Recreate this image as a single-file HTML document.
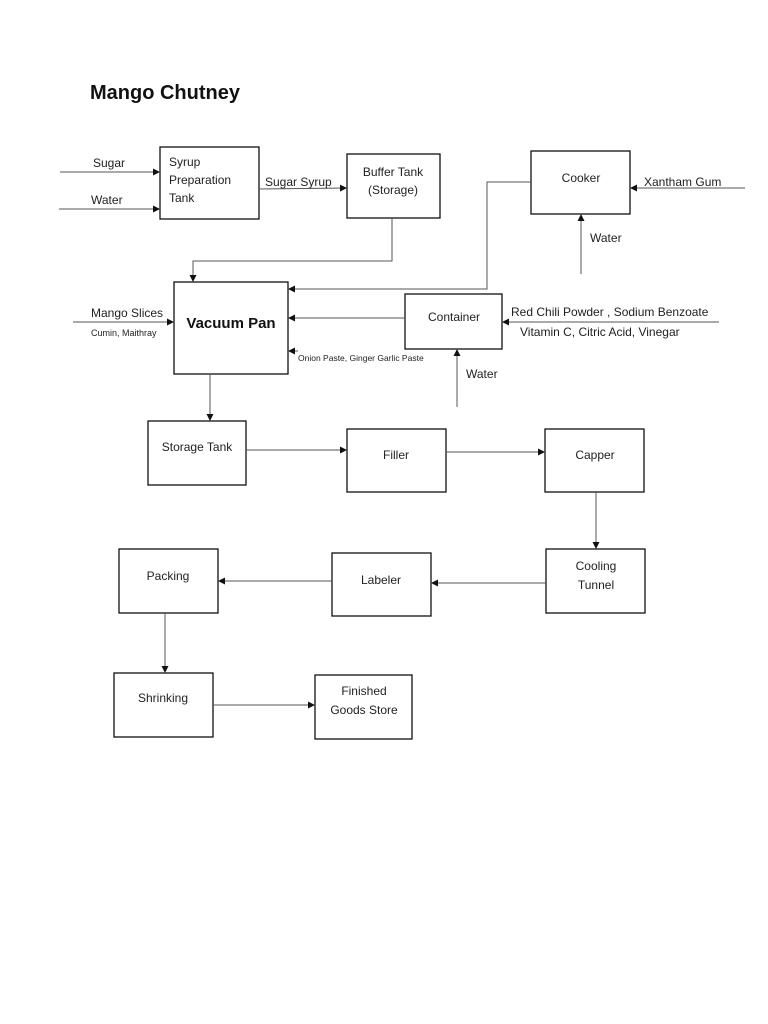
<!DOCTYPE html>
<html><head><meta charset="utf-8"><style>
html,body{margin:0;padding:0;background:#fff;}
svg{display:block;font-family:"Liberation Sans",sans-serif;}
text{fill:#222;font-size:12px;}
.b{fill:#fff;stroke:#111;stroke-width:1.3;}
.l{stroke:#555;stroke-width:1;fill:none;}
</style></head><body>
<svg width="768" height="1024" viewBox="0 0 768 1024" xmlns="http://www.w3.org/2000/svg">
<defs><marker id="a" markerWidth="8" markerHeight="8" refX="7" refY="4" orient="auto" markerUnits="userSpaceOnUse"><path d="M0,0.5 L7,4 L0,7.5 z" fill="#111"/></marker></defs>
<text x="90" y="99" style="font-size:20px;font-weight:bold;fill:#111">Mango Chutney</text>

<rect class="b" x="160" y="147" width="99" height="72"/>
<rect class="b" x="347" y="154" width="93" height="64"/>
<rect class="b" x="531" y="151" width="99" height="63"/>
<rect class="b" x="174" y="282" width="114" height="92"/>
<rect class="b" x="405" y="294" width="97" height="55"/>
<rect class="b" x="148" y="421" width="98" height="64"/>
<rect class="b" x="347" y="429" width="99" height="63"/>
<rect class="b" x="545" y="429" width="99" height="63"/>
<rect class="b" x="546" y="549" width="99" height="64"/>
<rect class="b" x="332" y="553" width="99" height="63"/>
<rect class="b" x="119" y="549" width="99" height="64"/>
<rect class="b" x="114" y="673" width="99" height="64"/>
<rect class="b" x="315" y="675" width="97" height="64"/>

<g class="l">
<line x1="60" y1="172" x2="160" y2="172" marker-end="url(#a)"/>
<line x1="59" y1="209" x2="160" y2="209" marker-end="url(#a)"/>
<line x1="259" y1="189" x2="347" y2="188" marker-end="url(#a)"/>
<polyline points="392,218 392,261 193,261 193,282" marker-end="url(#a)"/>
<polyline points="531,182 487,182 487,289 288,289" marker-end="url(#a)"/>
<line x1="405" y1="318" x2="288" y2="318" marker-end="url(#a)"/>
<line x1="298" y1="351" x2="288" y2="351" marker-end="url(#a)"/>
<line x1="73" y1="322" x2="174" y2="322" marker-end="url(#a)"/>
<line x1="745" y1="188" x2="630" y2="188" marker-end="url(#a)"/>
<line x1="581" y1="274" x2="581" y2="214" marker-end="url(#a)"/>
<line x1="719" y1="322" x2="502" y2="322" marker-end="url(#a)"/>
<line x1="457" y1="407" x2="457" y2="349" marker-end="url(#a)"/>
<line x1="210" y1="374" x2="210" y2="421" marker-end="url(#a)"/>
<line x1="246" y1="450" x2="347" y2="450" marker-end="url(#a)"/>
<line x1="446" y1="452" x2="545" y2="452" marker-end="url(#a)"/>
<line x1="596" y1="492" x2="596" y2="549" marker-end="url(#a)"/>
<line x1="546" y1="583" x2="431" y2="583" marker-end="url(#a)"/>
<line x1="332" y1="581" x2="218" y2="581" marker-end="url(#a)"/>
<line x1="165" y1="613" x2="165" y2="673" marker-end="url(#a)"/>
<line x1="213" y1="705" x2="315" y2="705" marker-end="url(#a)"/>
</g>

<text x="93" y="167">Sugar</text>
<text x="91" y="204">Water</text>
<text x="169" y="166">Syrup</text>
<text x="169" y="184">Preparation</text>
<text x="169" y="202">Tank</text>
<text x="265" y="186">Sugar Syrup</text>
<text x="393" y="176" text-anchor="middle">Buffer Tank</text>
<text x="393" y="194" text-anchor="middle">(Storage)</text>
<text x="581" y="182" text-anchor="middle">Cooker</text>
<text x="644" y="186">Xantham Gum</text>
<text x="590" y="242">Water</text>
<text x="91" y="317">Mango Slices</text>
<text x="91" y="336" style="font-size:9px">Cumin, Maithray</text>
<text x="231" y="328" text-anchor="middle" style="font-size:15px;font-weight:bold;fill:#111">Vacuum Pan</text>
<text x="298" y="361" style="font-size:8.5px">Onion Paste, Ginger Garlic Paste</text>
<text x="454" y="321" text-anchor="middle">Container</text>
<text x="511" y="316">Red Chili Powder , Sodium Benzoate</text>
<text x="520" y="336">Vitamin C, Citric Acid, Vinegar</text>
<text x="466" y="378">Water</text>
<text x="197" y="451" text-anchor="middle">Storage Tank</text>
<text x="396" y="459" text-anchor="middle">Filler</text>
<text x="595" y="459" text-anchor="middle">Capper</text>
<text x="596" y="570" text-anchor="middle">Cooling</text>
<text x="596" y="589" text-anchor="middle">Tunnel</text>
<text x="381" y="584" text-anchor="middle">Labeler</text>
<text x="168" y="580" text-anchor="middle">Packing</text>
<text x="163" y="702" text-anchor="middle">Shrinking</text>
<text x="364" y="695" text-anchor="middle">Finished</text>
<text x="364" y="714" text-anchor="middle">Goods Store</text>
</svg>
</body></html>
